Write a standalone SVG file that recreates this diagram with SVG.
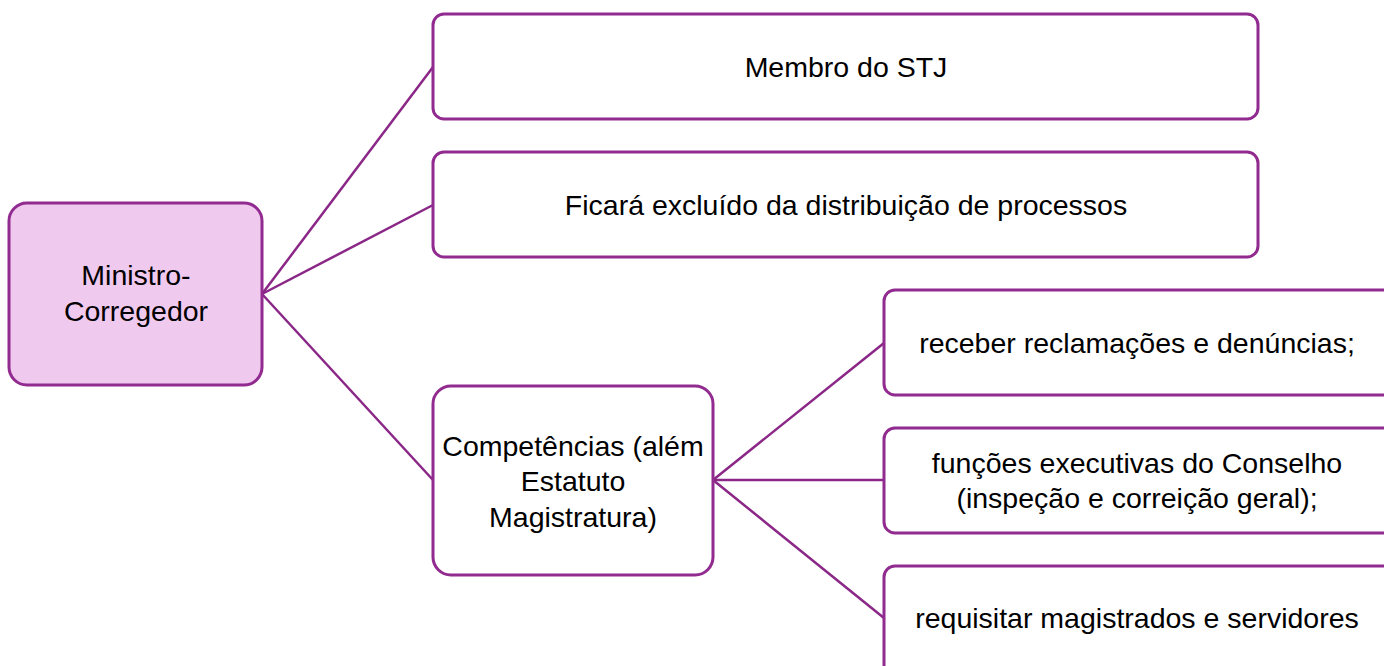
<svg xmlns="http://www.w3.org/2000/svg" width="1384" height="666" viewBox="0 0 1384 666">
<style>
.box{fill:#ffffff;stroke:#922b8f;stroke-width:3}
.root{fill:#f0c9ef;stroke:#922b8f;stroke-width:3}
.con{stroke:#8a2787;stroke-width:2.5;fill:none}
text{font-family:"Liberation Sans",Arial,sans-serif;font-size:28.5px;fill:#000;text-anchor:middle}
</style>
<rect width="1384" height="666" fill="#ffffff"/>
<g id="connectors">
<line class="con" x1="262" y1="294" x2="433" y2="67"/>
<line class="con" x1="262" y1="294" x2="433" y2="205"/>
<line class="con" x1="262" y1="294" x2="433" y2="480"/>
<line class="con" x1="713" y1="480" x2="884" y2="343"/>
<line class="con" x1="713" y1="480" x2="884" y2="480"/>
<line class="con" x1="713" y1="480" x2="884" y2="618"/>
</g>
<g id="root">
<rect class="root" x="9" y="203" width="253" height="182" rx="18"/>
<text x="136" y="285">Ministro-</text>
<text x="136" y="321">Corregedor</text>
</g>
<g id="membro">
<rect class="box" x="433" y="14" width="825" height="105" rx="11"/>
<text x="846" y="77">Membro do STJ</text>
</g>
<g id="excluido">
<rect class="box" x="433" y="152" width="825" height="105" rx="11"/>
<text x="846" y="215">Ficará excluído da distribuição de processos</text>
</g>
<g id="competencias">
<rect class="box" x="433" y="386" width="280" height="189" rx="18"/>
<text x="573" y="456">Competências (além</text>
<text x="573" y="491">Estatuto</text>
<text x="573" y="527">Magistratura)</text>
</g>
<g id="receber">
<rect class="box" x="884" y="290" width="510" height="105" rx="11"/>
<text x="1137" y="353">receber reclamações e denúncias;</text>
</g>
<g id="funcoes">
<rect class="box" x="884" y="428" width="510" height="105" rx="11"/>
<text x="1137" y="473">funções executivas do Conselho</text>
<text x="1137" y="508">(inspeção e correição geral);</text>
</g>
<g id="requisitar">
<rect class="box" x="884" y="566" width="510" height="110" rx="11"/>
<text x="1137" y="628">requisitar magistrados e servidores</text>
</g>
</svg>
